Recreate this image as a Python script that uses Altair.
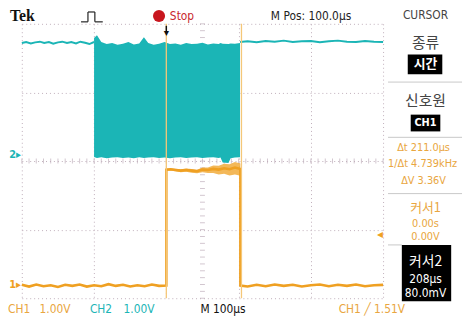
import altair as alt
import pandas as pd

# ---------------- data (time in µs, voltage in V) ----------------
CH1_OFFSET = 0.37   # divisions above bottom for CH1 ground
CH2_OFFSET = 4.17   # divisions above bottom for CH2 ground

ch2_pre_t = [0, 12, 25, 37, 50, 62, 75, 87, 100, 112, 125, 137, 150, 162, 175, 187, 200]
ch2_pre_v = [3.27, 3.30, 3.26, 3.29, 3.31, 3.27, 3.30, 3.25, 3.29, 3.31, 3.27, 3.30, 3.26, 3.31, 3.28, 3.24, 3.30]

band_t = [200, 208, 220, 235, 250, 265, 280, 295, 310, 325, 338, 350, 365, 380, 395, 410,
          425, 440, 455, 470, 485, 500, 515, 530, 545, 550, 556, 572, 578, 590, 604]
band_top = [3.42, 3.50, 3.30, 3.24, 3.27, 3.22, 3.25, 3.30, 3.23, 3.26, 3.44, 3.27, 3.22, 3.25, 3.30, 3.24,
            3.26, 3.22, 3.27, 3.24, 3.25, 3.28, 3.23, 3.26, 3.24, 3.27, 3.25, 3.24, 3.26, 3.25, 3.27]
band_bot = [-0.05, -0.08, -0.06, -0.09, -0.07, -0.06, -0.08, -0.07, -0.09, -0.06, -0.08, -0.07, -0.06, -0.08, -0.07, -0.09,
            -0.07, -0.06, -0.08, -0.07, -0.06, -0.08, -0.07, -0.06, -0.08, -0.07, -0.21, -0.23, -0.09, -0.07, -0.06]

ch2_post_t = [604, 625, 650, 675, 700, 725, 750, 775, 800, 825, 850, 875, 900, 925, 950, 975, 1000]
ch2_post_v = [3.30, 3.32, 3.29, 3.33, 3.31, 3.34, 3.30, 3.32, 3.33, 3.29, 3.32, 3.34, 3.31, 3.30, 3.33, 3.31, 3.30]

ch1_low1_t = [0, 20, 40, 60, 80, 100, 120, 140, 160, 180, 200, 220, 240, 260, 280, 300, 320, 340, 360, 380, 400]
ch1_low1_v = [0.02, -0.03, 0.03, -0.02, 0.01, -0.04, 0.02, -0.01, 0.03, -0.03, 0.01, -0.02, 0.04, -0.01, 0.02, -0.03, 0.01, -0.02, 0.03, -0.01, 0.00]

ch1_high_t = [400, 412, 425, 440, 455, 470, 485, 500, 515, 530, 545, 560, 575, 590, 605]
ch1_high_v = [3.38, 3.39, 3.37, 3.35, 3.37, 3.35, 3.33, 3.38, 3.37, 3.40, 3.38, 3.42, 3.39, 3.44, 3.40]
ch1_high_spread = [0.03, 0.04, 0.04, 0.05, 0.05, 0.06, 0.06, 0.08, 0.09, 0.12, 0.14, 0.16, 0.18, 0.20, 0.20]

ch1_low2_t = [605, 625, 650, 675, 700, 725, 750, 775, 800, 825, 850, 875, 900, 925, 950, 975, 1000]
ch1_low2_v = [0.00, -0.03, 0.02, -0.02, 0.03, -0.01, 0.02, -0.03, 0.01, 0.03, -0.02, 0.02, -0.01, 0.03, -0.02, 0.01, 0.02]

cursor_t = [400, 608]
trigger_t = 400
trigger_level = 1.51

# ---------------- styling ----------------
CYAN = "#1BB5B6"
ORANGE = "#EFA022"
ORANGE_TXT = "#E9A640"
CURSOR_C = "#F5C778"
GRID = "#bfaeba"
UI = "'Liberation Sans Narrow', 'DejaVu Sans Condensed', Roboto, sans-serif"
KR = "'Noto Sans CJK KR', sans-serif"

xs = alt.Scale(domain=[0, 1000], nice=False, zero=False)
ys = alt.Scale(domain=[0, 8], nice=False, zero=False)
xaxis = alt.Axis(values=list(range(0, 1001, 100)), grid=True, gridColor=GRID, gridDash=[1, 3],
                 labels=False, ticks=False, domain=False, title="")
yaxis = alt.Axis(values=list(range(0, 9)), grid=True, gridColor=GRID, gridDash=[1, 3],
                 labels=False, ticks=False, domain=False, title="")
X = lambda f: alt.X(f, type="quantitative", scale=xs, axis=xaxis)
Y = lambda f: alt.Y(f, type="quantitative", scale=ys, axis=yaxis)

# ---------------- tables ----------------
df_pre = pd.DataFrame({"t": ch2_pre_t, "y": [CH2_OFFSET + v for v in ch2_pre_v]})
df_post = pd.DataFrame({"t": ch2_post_t, "y": [CH2_OFFSET + v for v in ch2_post_v]})
df_band = pd.DataFrame({"t": band_t,
                        "top": [CH2_OFFSET + v for v in band_top],
                        "bot": [CH2_OFFSET + v for v in band_bot]})
ch1_t = ch1_low1_t + ch1_high_t + ch1_low2_t
ch1_v = ch1_low1_v + ch1_high_v + ch1_low2_v
df_ch1 = pd.DataFrame({"t": ch1_t, "y": [CH1_OFFSET + v for v in ch1_v], "i": list(range(len(ch1_t)))})
df_ch1_band = pd.DataFrame({"t": ch1_high_t,
                            "lo": [CH1_OFFSET + v - s for v, s in zip(ch1_high_v, ch1_high_spread)],
                            "hi": [CH1_OFFSET + v + s * 0.8 for v, s in zip(ch1_high_v, ch1_high_spread)]})
df_cur = pd.DataFrame({"t": cursor_t})
df_xt = pd.DataFrame({"t": list(range(0, 1001, 20)), "y": [4] * 51})
df_yt = pd.DataFrame({"y": [i / 5 for i in range(41)], "t": [500] * 41})

# ---------------- plot layers ----------------
grid_x_ticks = alt.Chart(df_xt).mark_tick(orient="vertical", size=5, thickness=1, color=GRID).encode(x=X("t"), y=Y("y"))
grid_y_ticks = alt.Chart(df_yt).mark_tick(orient="horizontal", size=5, thickness=1, color=GRID).encode(x=X("t"), y=Y("y"))

band = alt.Chart(df_band).mark_area(color=CYAN, opacity=1).encode(x=X("t"), y=Y("top"), y2="bot")
pre = alt.Chart(df_pre).mark_line(color=CYAN, strokeWidth=2).encode(x=X("t"), y=Y("y"))
post = alt.Chart(df_post).mark_line(color=CYAN, strokeWidth=2).encode(x=X("t"), y=Y("y"))

ch1_band = alt.Chart(df_ch1_band).mark_area(color=ORANGE, opacity=0.75).encode(x=X("t"), y=Y("hi"), y2="lo")
ch1 = alt.Chart(df_ch1).mark_line(color=ORANGE, strokeWidth=2.6).encode(x=X("t"), y=Y("y"), order="i:Q")
cursors = alt.Chart(df_cur).mark_rule(color=CURSOR_C, strokeWidth=1.3).encode(x=X("t"))

ONE = pd.DataFrame({"k": [0]})


def ptext(s, px, py, size=12, color="#222", font=UI, align="center", weight="normal"):
    return alt.Chart(ONE).mark_text(text=s, fontSize=size, color=color, font=font, align=align,
                                    baseline="middle", fontWeight=weight).encode(
        x=alt.value(px - 22), y=alt.value(py - 22))


def prect(x1, y1, x2, y2, color):
    return alt.Chart(ONE).mark_rect(color=color).encode(
        x=alt.value(x1 - 22), x2=alt.value(x2 - 22), y=alt.value(y1 - 22), y2=alt.value(y2 - 22))


def prule(x1, y1, x2, y2, color, w=1.0):
    return alt.Chart(ONE).mark_rule(color=color, strokeWidth=w).encode(
        x=alt.value(x1 - 22), x2=alt.value(x2 - 22), y=alt.value(y1 - 22), y2=alt.value(y2 - 22))


# channel markers
mark2 = alt.Chart(ONE).mark_text(text="2▸", fontSize=11, color=CYAN, font=UI, align="right", baseline="middle",
                                 fontWeight="bold").encode(x=alt.value(-1), y=alt.Y(datum=CH2_OFFSET, scale=ys))
mark1 = alt.Chart(ONE).mark_text(text="1▸", fontSize=11, color=ORANGE, font=UI, align="right", baseline="middle",
                                 fontWeight="bold").encode(x=alt.value(-1), y=alt.Y(datum=CH1_OFFSET, scale=ys))
trig_lvl = alt.Chart(ONE).mark_text(text="◂", fontSize=12, color=ORANGE, align="right", baseline="middle").encode(
    x=alt.value(366), y=alt.Y(datum=CH1_OFFSET + trigger_level, scale=ys))
trig_pos = alt.Chart(ONE).mark_text(text="▼", fontSize=9, color="#111", baseline="middle").encode(
    x=alt.X(datum=trigger_t, scale=xs), y=alt.value(9))
trig_stem = alt.Chart(ONE).mark_rule(color="#111", strokeWidth=1.5).encode(
    x=alt.X(datum=trigger_t, scale=xs), y=alt.value(2), y2=alt.value(8))

# top bar
top = [
    ptext("Tek", 10, 14, size=16, color="#111", font="'Liberation Serif', 'DejaVu Serif', serif", align="left", weight="bold"),
    prule(82, 20, 89, 20, "#222", 1.2), prule(89, 10, 89, 20, "#222", 1.2), prule(89, 10, 96, 10, "#222", 1.2),
    prule(96, 10, 96, 20, "#222", 1.2), prule(96, 20, 104, 20, "#222", 1.2),
    alt.Chart(ONE).mark_point(filled=True, shape="circle", size=150, color="#C8161E", opacity=1).encode(
        x=alt.value(161 - 22), y=alt.value(14 - 22)),
    ptext("Stop", 172, 14, size=12, color="#C8262E", align="left"),
    ptext("M Pos: 100.0µs", 315, 14, size=12, color="#222"),
]

# right panel
panel = [
    ptext("CURSOR", 431, 13, size=12, color="#444"),
    ptext("종류", 431, 41, size=15, color="#444", font=KR),
    prect(413, 53, 448, 73, "#000"),
    ptext("시간", 431, 63, size=13, color="#fff", font=KR, weight="bold"),
    prule(393, 81, 468, 81, "#c8c8c8"),
    ptext("신호원", 431, 100, size=15, color="#444", font=KR),
    prect(416, 114, 446, 131, "#000"),
    ptext("CH1", 431, 122.5, size=11, color="#fff", weight="bold"),
    prule(393, 137, 468, 137, "#c8c8c8"),
    ptext("Δt 211.0µs", 429, 148, size=11, color=ORANGE_TXT),
    ptext("1/Δt 4.739kHz", 428, 164, size=11, color=ORANGE_TXT),
    ptext("ΔV 3.36V", 429, 181, size=11, color=ORANGE_TXT),
    prule(393, 194, 468, 194, "#c8c8c8"),
    ptext("커서1", 431, 209, size=13, color=ORANGE_TXT, font=KR),
    ptext("0.00s", 431, 225, size=11, color=ORANGE_TXT),
    ptext("0.00V", 431, 238, size=11, color=ORANGE_TXT),
    prule(393, 246, 407, 246, "#c8c8c8"),
    prect(407, 246, 457, 303, "#000"),
    ptext("커서2", 431, 263, size=14, color="#fff", font=KR),
    ptext("208µs", 431, 281, size=12, color="#fff"),
    ptext("80.0mV", 431, 295, size=12, color="#fff"),
]

# bottom bar
bottom = [
    ptext("CH1", 8, 311, size=12, color=ORANGE_TXT, align="left"),
    ptext("1.00V", 40, 311, size=12, color=ORANGE_TXT, align="left"),
    ptext("CH2", 91, 311, size=12, color=CYAN, align="left"),
    ptext("1.00V", 125, 311, size=12, color=CYAN, align="left"),
    ptext("M 100µs", 203, 311, size=12, color="#111", align="left"),
    ptext("CH1 ╱ 1.51V", 343, 311, size=12, color=ORANGE_TXT, align="left"),
]

chart = alt.layer(
    grid_x_ticks, grid_y_ticks, band, pre, post, ch1_band, ch1, cursors,
    mark2, mark1, trig_lvl, trig_pos, trig_stem, *top, *panel, *bottom
).properties(
    width=366, height=278,
    padding={"left": 14, "top": 14, "right": 83, "bottom": 18},
    autosize=alt.AutoSizeParams(type="none"),
    background="#ffffff",
).configure_view(strokeWidth=0)

chart.save("out.html", embed_options={"renderer": "svg", "actions": False})
